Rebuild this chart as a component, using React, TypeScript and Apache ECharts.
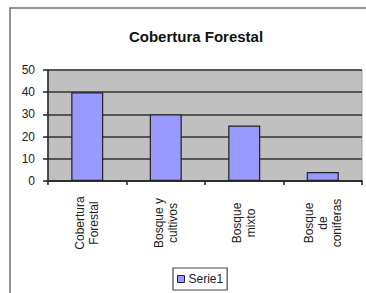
import React, { useEffect, useRef } from "react";
import * as echarts from "echarts";

const categories = ["Cobertura\nForestal", "Bosque y\ncultivos", "Bosque\nmixto", "Bosque\nde\nconiferas"];
const serie1 = [40, 30, 25, 4];
const yTicks = [0, 10, 20, 30, 40, 50];

export default function App() {
  const ref = useRef<HTMLDivElement>(null);
  useEffect(() => {
    document.body.style.margin = "0";
    const chart = echarts.init(ref.current!, null, { renderer: "svg" });
    chart.setOption({
      animation: false,
      backgroundColor: "#ffffff",
      textStyle: { fontFamily: "Liberation Sans, Arial, sans-serif" },
      graphic: [
        {
          type: "rect",
          shape: { x: 10, y: 8, width: 400, height: 320 },
          style: { fill: "none", stroke: "#707070", lineWidth: 1.5 },
          silent: true,
          z: 0,
        },
      ],
      title: {
        text: "Cobertura Forestal",
        left: 191,
        top: 24,
        textAlign: "center",
        textStyle: { fontSize: 15, fontWeight: "bold", color: "#111", fontFamily: "Liberation Sans, Arial, sans-serif", letterSpacing: -0.5 },
      },
      legend: {
        data: ["Serie1"],
        left: 173,
        top: 268,
        padding: [5, 4, 5, 4],
        itemWidth: 7,
        itemHeight: 7,
        itemGap: 4,
        borderColor: "#444",
        borderWidth: 1.2,
        icon: "rect",
        itemStyle: { borderColor: "#222", borderWidth: 1 },
        textStyle: { fontSize: 12, color: "#222", padding: [0, 0, 0, -1] },
      },
      grid: { left: 48, right: 4, top: 70, bottom: 112, containLabel: false, show: true, backgroundColor: "#c0c0c0", borderColor: "#a0a0a0", borderWidth: 1 },
      xAxis: {
        type: "category",
        data: categories,
        axisLine: { lineStyle: { color: "#222", width: 1.5 } },
        axisTick: { show: true, length: 4, lineStyle: { color: "#222", width: 1.5 } },
        axisLabel: {
          rotate: 90,
          interval: 0,
          align: "center",
          verticalAlign: "middle",
          margin: 42,
          fontSize: 12,
          lineHeight: 14,
          color: "#222",
        },
      },
      yAxis: {
        type: "value",
        min: yTicks[0],
        max: yTicks[yTicks.length - 1],
        interval: 10,
        axisLine: { show: true, lineStyle: { color: "#222", width: 1.5 } },
        axisTick: { show: true, length: 5, lineStyle: { color: "#222", width: 1.5 } },
        axisLabel: { fontSize: 12, color: "#222", margin: 13 },
        splitLine: { show: true, lineStyle: { color: "#333", width: 1.5 } },
      },
      series: [
        {
          name: "Serie1",
          type: "bar",
          data: serie1,
          barWidth: 32,
          itemStyle: { color: "#9999ff", borderColor: "#222", borderWidth: 1.2 },
        },
      ],
    });
    return () => chart.dispose();
  }, []);
  return <div ref={ref} style={{ width: 366, height: 293, position: "absolute", left: 0, top: 0 }} />;
}
